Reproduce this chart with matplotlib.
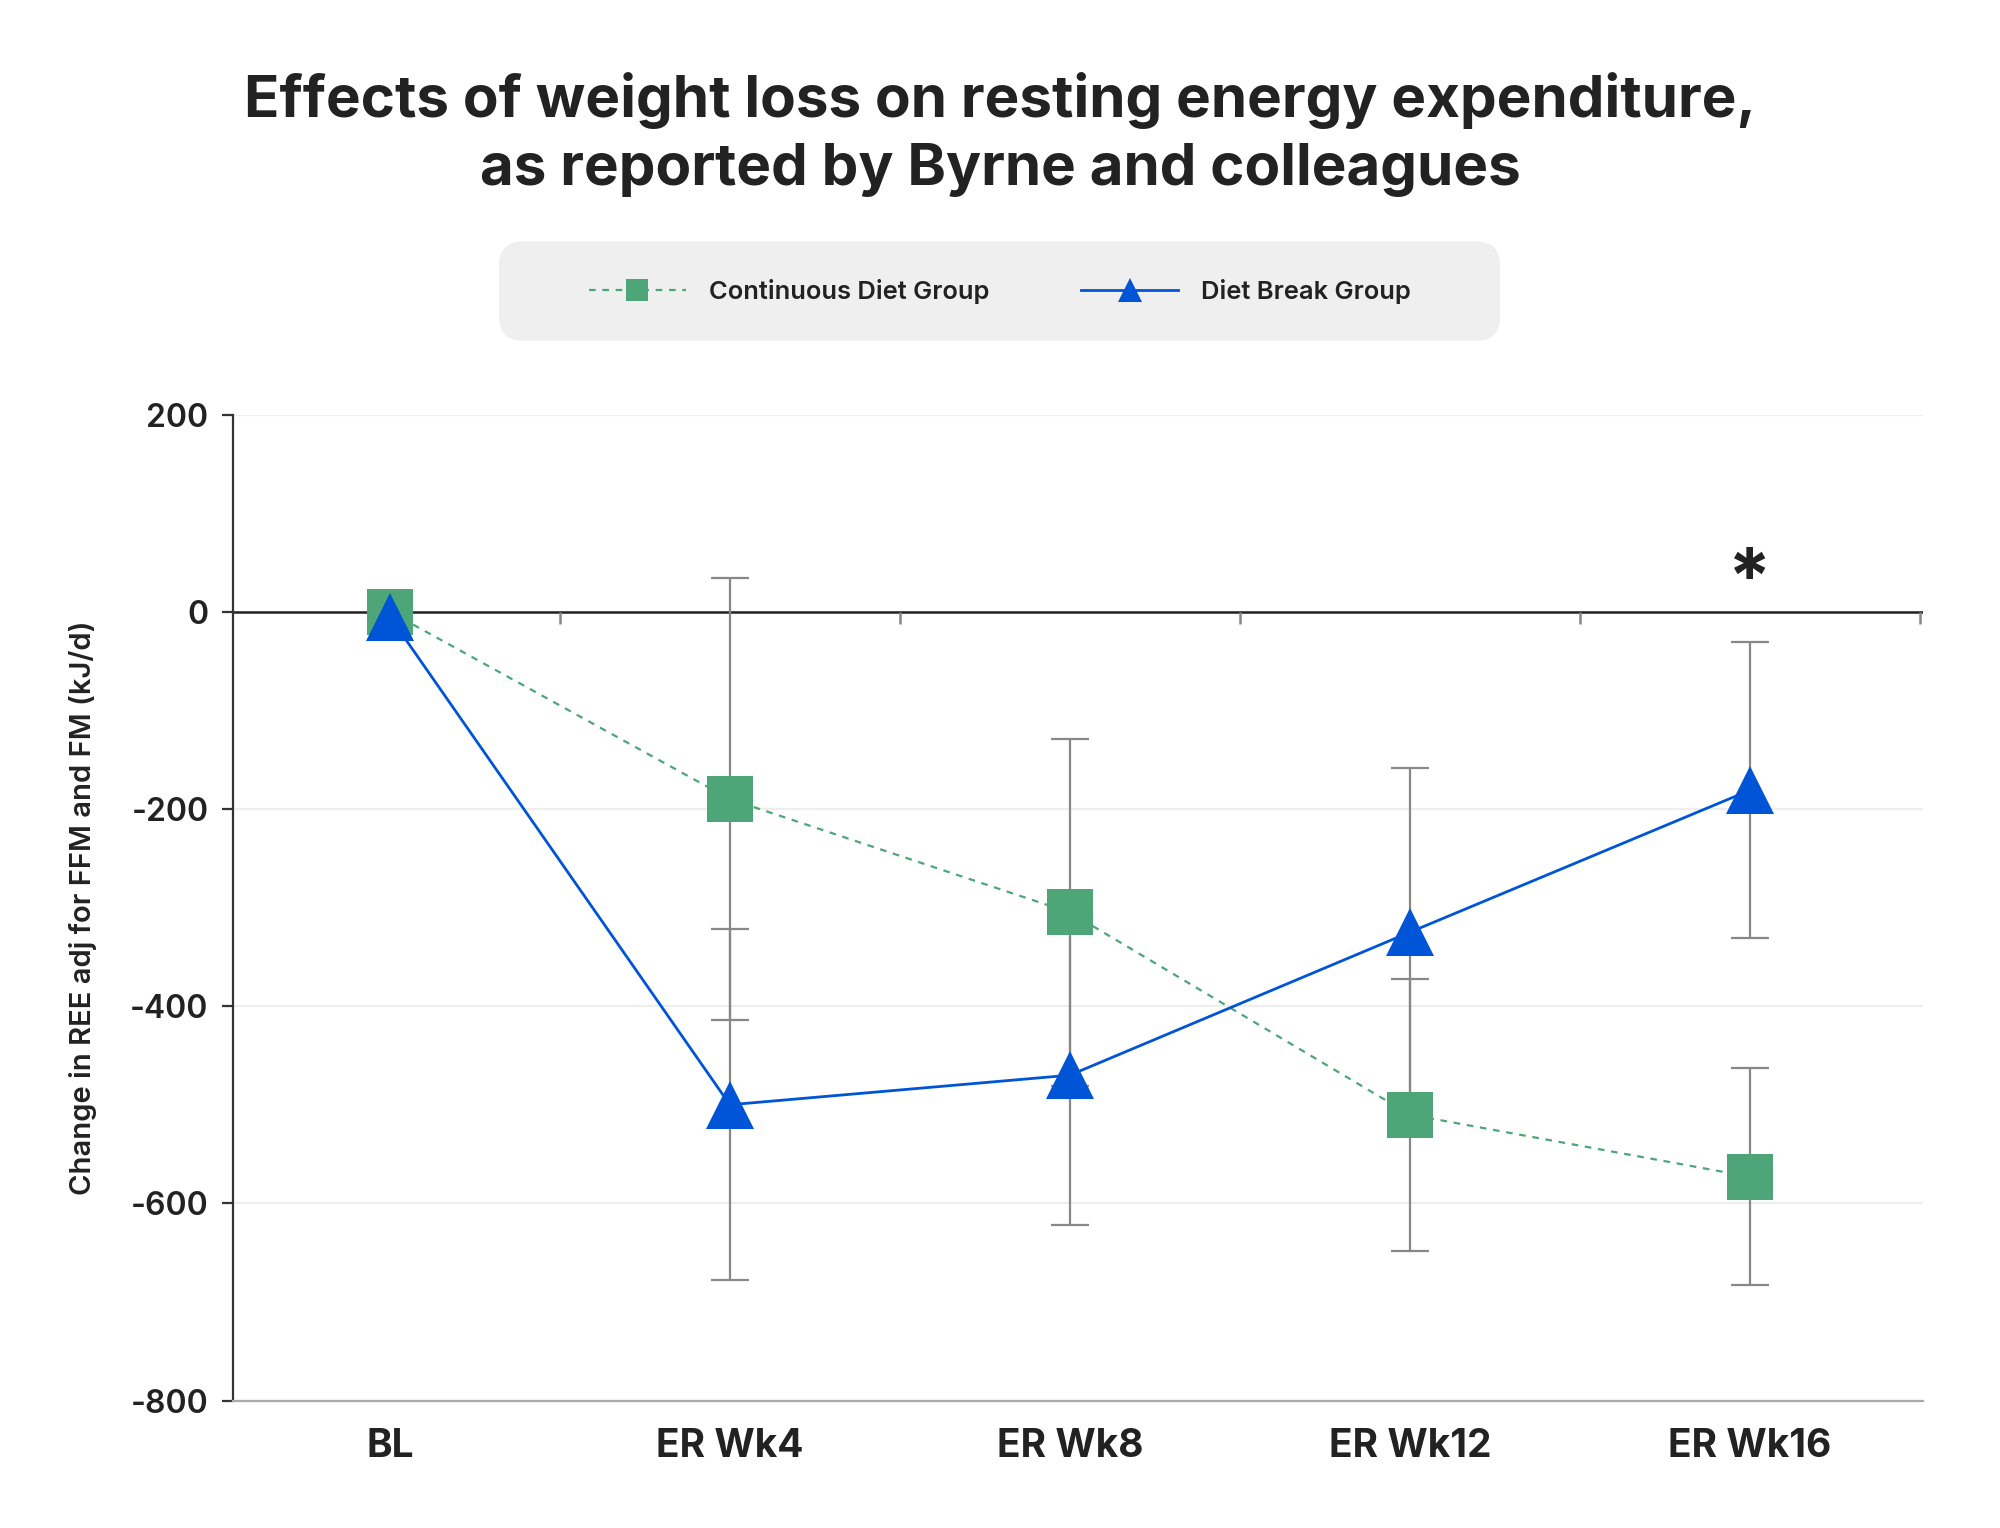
import matplotlib
matplotlib.use("Agg")
import matplotlib.pyplot as plt
from matplotlib.patches import FancyBboxPatch
import numpy as np

plt.rcParams['font.family'] = ['Inter', 'DejaVu Sans']

# data
categories = ["BL", "ER Wk4", "ER Wk8", "ER Wk12", "ER Wk16"]
continuous = [0, -190, -305, -510, -573]
continuous_err = [0, 224, 176, 138, 110]
diet_break = [-5, -500, -470, -325, -181]
diet_break_err = [0, 178, 152, 167, 150]

green = "#4ea678"
blue = "#0055d6"
grey_bar = "#888888"

fig = plt.figure(figsize=(10, 7.64), dpi=200)
ax = fig.add_axes([0.1167, 0.0834, 0.845, 0.6453])

x = np.arange(len(categories))

# error bars (no bar at baseline)
ax.errorbar(x[1:], continuous[1:], yerr=continuous_err[1:], fmt='none',
            ecolor=grey_bar, elinewidth=0.8, capsize=7, capthick=0.8, zorder=2)
ax.errorbar(x[1:], diet_break[1:], yerr=diet_break_err[1:], fmt='none',
            ecolor=grey_bar, elinewidth=0.8, capsize=7, capthick=0.8, zorder=2)

ax.plot(x, continuous, color=green, linestyle=(0, (3, 3)), linewidth=0.8,
        marker='s', markersize=16.5, markerfacecolor=green, markeredgewidth=0,
        label="Continuous Diet Group", zorder=3)
ax.plot(x, diet_break, color=blue, linewidth=1.0,
        marker='^', markersize=17, markerfacecolor=blue, markeredgewidth=0,
        label="Diet Break Group", zorder=4)

# zero line with ticks between categories
ax.axhline(0, color="#222222", linewidth=0.9, zorder=1)
bounds = np.arange(0.5, len(categories), 1.0)
ax.vlines(bounds, -12, 0, color="#888888", linewidth=0.9, zorder=1)

ax.text(4, -8, "*", ha='center', va='bottom', fontsize=28, fontweight='bold',
        color="#222222")

ax.set_xlim(-0.46, 4.51)
ax.set_ylim(-800, 200)
ax.set_yticks([200, 0, -200, -400, -600, -800])
ax.set_yticklabels(["200", "0", "-200", "-400", "-600", "-800"])
ax.set_xticks(x)
ax.set_xticklabels(categories, fontsize=14, fontweight='bold', color="#222222")
ax.tick_params(axis='x', length=0, pad=10)
ax.tick_params(axis='y', length=4, width=0.8, color="#333333", labelsize=11.5,
               labelcolor="#222222", pad=5)
for lab in ax.get_yticklabels():
    lab.set_fontweight('semibold')

ax.grid(axis='y', color="#eeeeee", linewidth=0.8, zorder=0)
ax.set_axisbelow(True)
ax.spines['top'].set_visible(False)
ax.spines['right'].set_visible(False)
ax.spines['left'].set_color("#333333")
ax.spines['left'].set_linewidth(0.8)
ax.spines['bottom'].set_color("#aaaaaa")
ax.spines['bottom'].set_linewidth(0.8)

ax.set_ylabel("Change in REE adj for FFM and FM (kJ/d)", fontsize=10.5,
              fontweight='semibold', color="#222222", labelpad=12)

fig.text(0.5, 0.912, "Effects of weight loss on resting energy expenditure,\n"
         "as reported by Byrne and colleagues", ha='center', va='center',
         fontsize=21, fontweight='bold', color="#222222", linespacing=1.35)

# legend panel
panel = FancyBboxPatch((0.2495, 0.777), 0.5005, 0.065,
                       boxstyle="round,pad=0,rounding_size=0.012",
                       transform=fig.transFigure, facecolor="#efefef",
                       edgecolor='none', mutation_aspect=1.31)
fig.patches.append(panel)
leg = fig.legend(loc='center', bbox_to_anchor=(0.5, 0.8095), ncol=2,
                 frameon=False, fontsize=9.2, handlelength=3.8,
                 columnspacing=3.6, markerscale=0.5, handletextpad=0.9)
for t in leg.get_texts():
    t.set_fontweight('semibold')
    t.set_color("#222222")

fig.savefig("out.png", dpi=200)
